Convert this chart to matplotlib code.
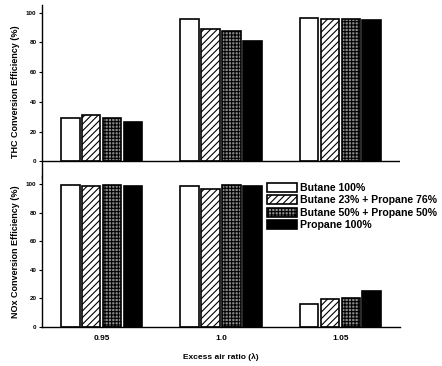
import numpy as np
import matplotlib.pyplot as plt

plt.rcParams['font.family'] = ['Liberation Sans', 'DejaVu Sans']
plt.rcParams['font.weight'] = 'bold'
plt.rcParams['axes.labelweight'] = 'bold'
plt.rcParams['hatch.linewidth'] = 0.8

ratios = ['0.95', '1.0', '1.05']
fuels = ['Butane 100%', 'Butane 23% + Propane 76%',
         'Butane 50% + Propane 50%', 'Propane 100%']

# THC conversion efficiency (%), one list per fuel
thc_butane = [28.9, 95.4, 96.5]
thc_b23 = [31.4, 89.3, 96.0]
thc_b50 = [29.4, 87.7, 95.6]
thc_propane = [26.7, 81.1, 94.7]

# NOx conversion efficiency (%)
nox_butane = [99.8, 98.8, 15.9]
nox_b23 = [98.6, 96.7, 19.4]
nox_b50 = [99.3, 99.6, 20.4]
nox_propane = [99.1, 99.1, 25.3]

thc = [thc_butane, thc_b23, thc_b50, thc_propane]
nox = [nox_butane, nox_b23, nox_b50, nox_propane]

styles = [
    dict(facecolor='white', hatch=None),
    dict(facecolor='white', hatch='/////'),
    dict(facecolor='#8a8a8a', hatch='+++++'),
    dict(facecolor='black', hatch=None),
]

fig = plt.figure(figsize=(4.42, 3.66), dpi=100)
ax1 = fig.add_axes([0.095, 0.514, 0.81, 0.472])
ax2 = fig.add_axes([0.095, 0.107, 0.81, 0.413])

x = np.arange(len(ratios))
w = 0.175


def draw(ax, data):
    for i, (vals, st) in enumerate(zip(data, styles)):
        ax.bar(x + (i - 1.5) * w, vals, w * 0.88, facecolor=st['facecolor'],
               hatch=st['hatch'], edgecolor='black', linewidth=1.2,
               label=fuels[i])
    ax.set_xlim(-0.5, 2.5)
    ax.set_yticks([0, 20, 40, 60, 80, 100])
    ax.tick_params(axis='y', labelsize=4.5, length=2, width=0.8, pad=2)
    for s in ['top', 'right']:
        ax.spines[s].set_visible(False)
    ax.spines['left'].set_linewidth(1.0)


draw(ax1, thc)
ax1.set_ylim(-11, 105)
ax1.spines['bottom'].set_visible(False)
ax1.axhline(0, color='black', lw=1.0)
ax1.set_xticks([])
ax1.set_ylabel('THC Conversion Efficiency (%)', fontsize=6.5, labelpad=4)

draw(ax2, nox)
ax2.set_ylim(0, 106)
ax2.spines['bottom'].set_linewidth(1.0)
ax2.set_xticks(x)
ax2.set_xticklabels(ratios)
ax2.tick_params(axis='x', labelsize=6, length=0, pad=6)
ax2.set_ylabel('NOx Conversion Efficiency (%)', fontsize=6.5, labelpad=4)
ax2.set_xlabel('Excess air ratio (\u03bb)', fontsize=6, labelpad=8)

ax2.legend(loc='upper left', bbox_to_anchor=(0.603, 0.5),
           bbox_transform=fig.transFigure, frameon=False, fontsize=7.6,
           handlelength=2.9, handleheight=0.95, handletextpad=0.3,
           labelspacing=0.2, borderpad=0, borderaxespad=0)

fig.savefig('out.png', dpi=100)
